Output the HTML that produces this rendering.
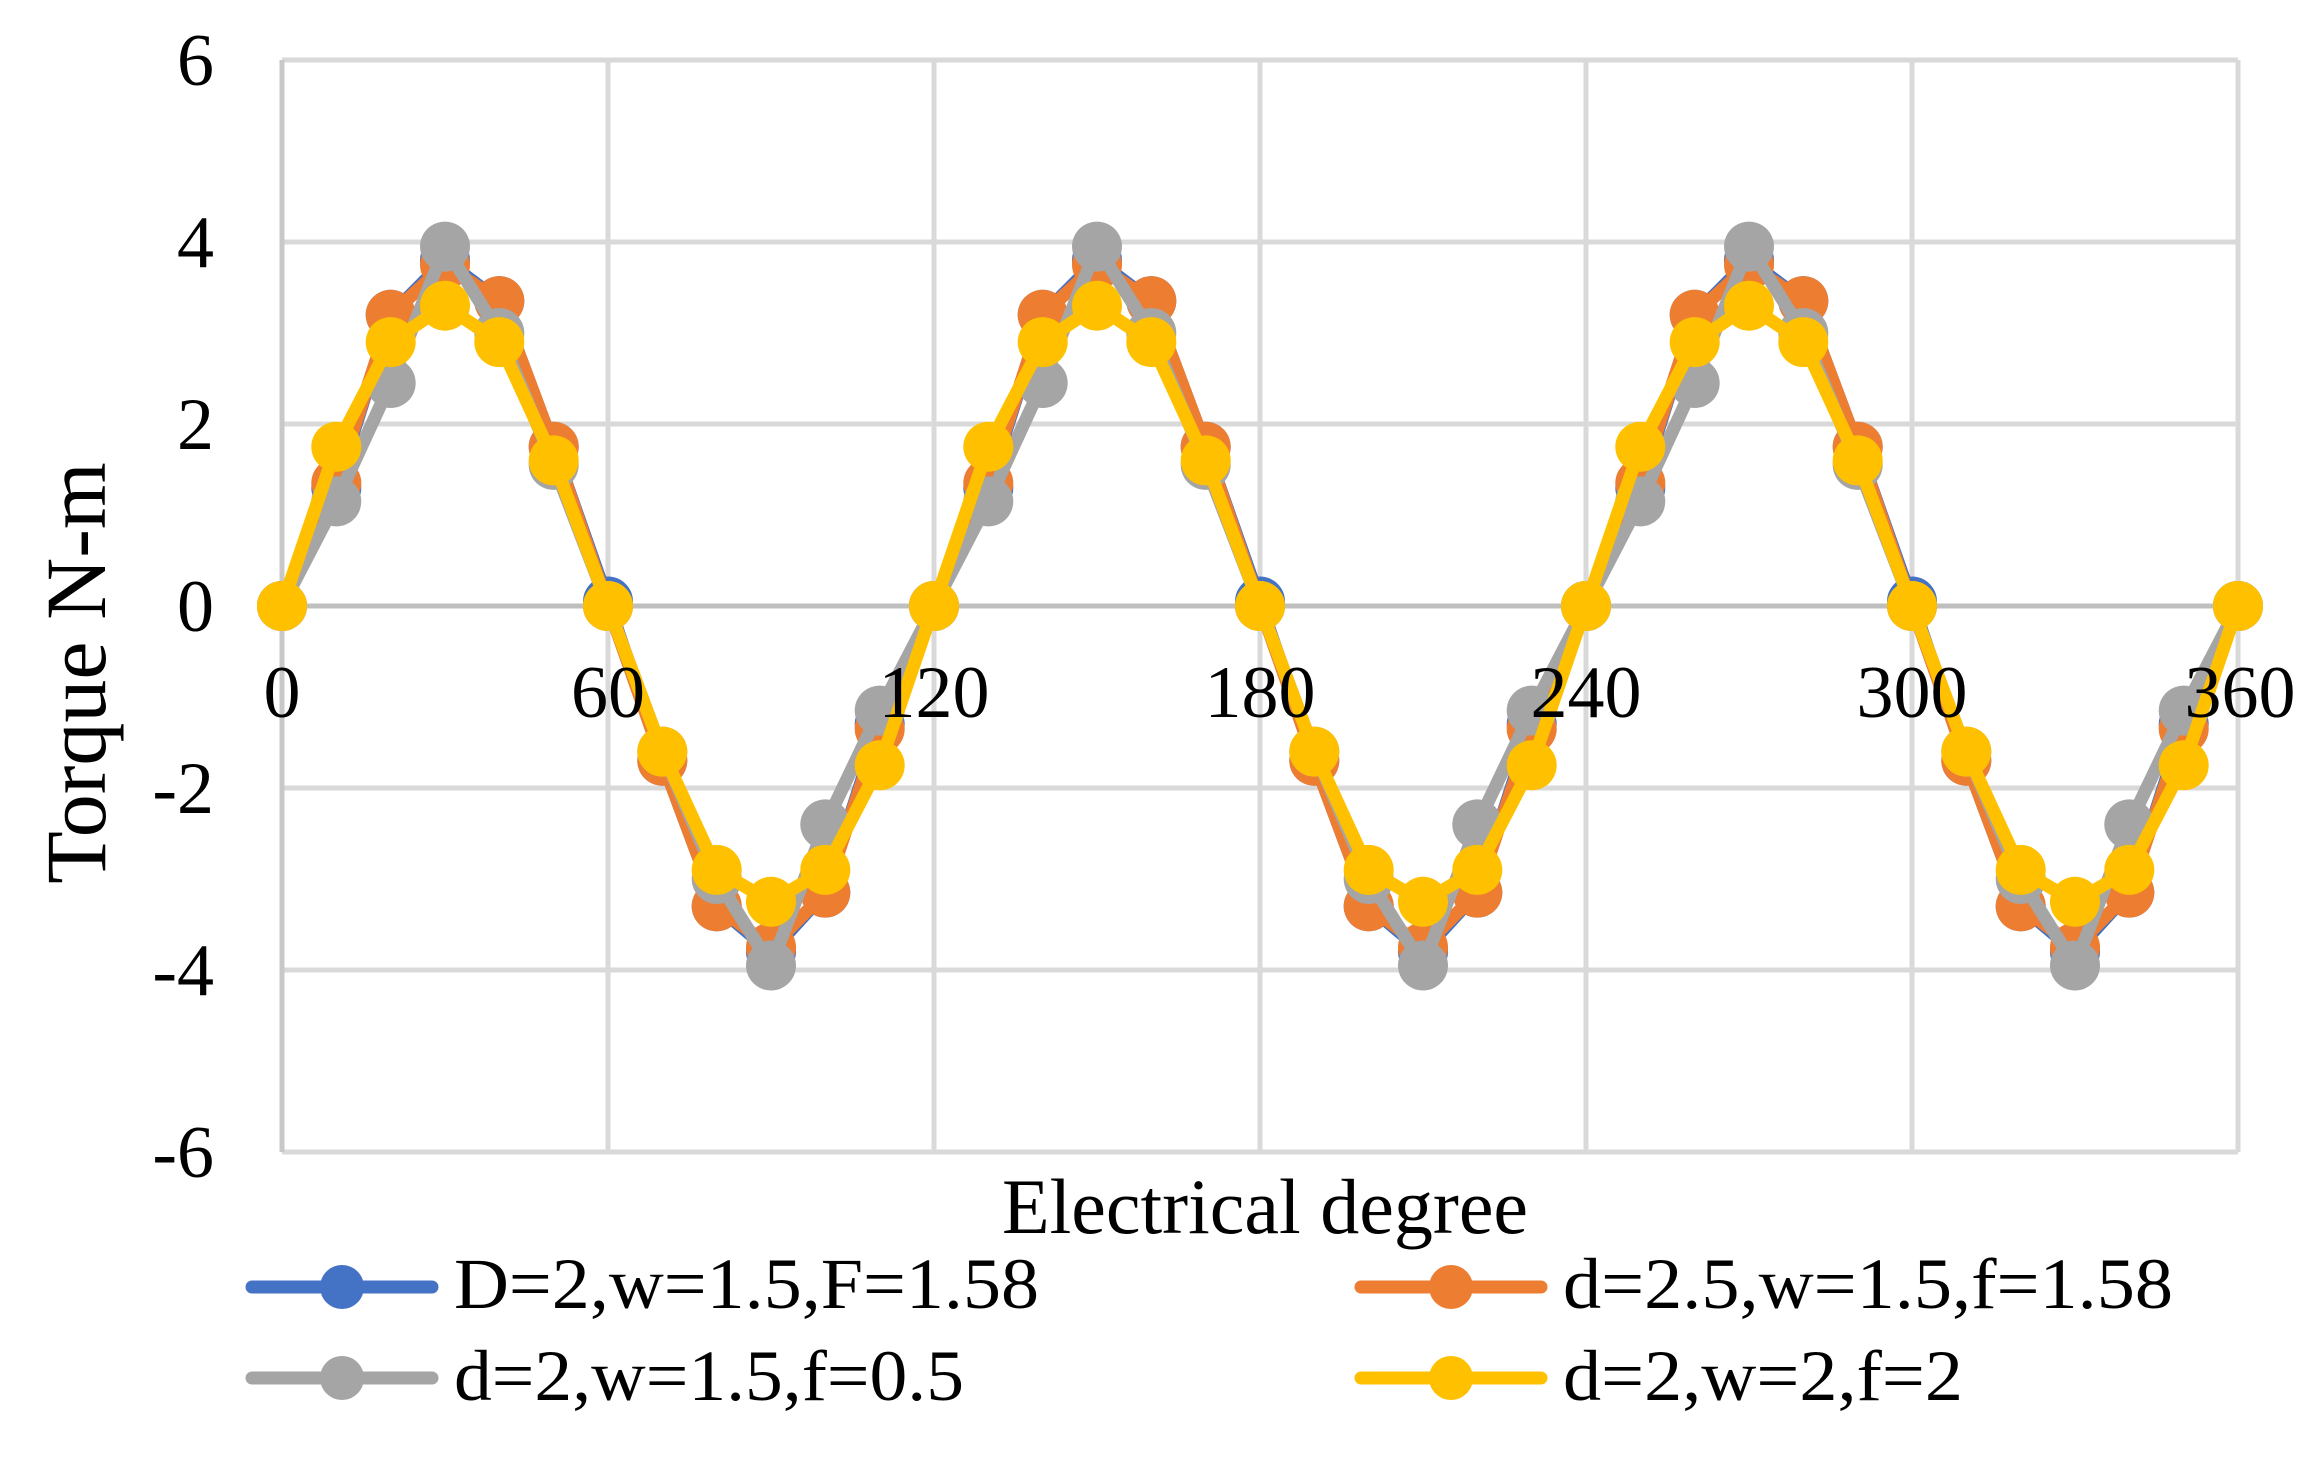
<!DOCTYPE html>
<html><head><meta charset="utf-8"><style>
html,body{margin:0;padding:0;background:#fff;}
svg{display:block;}
text{font-family:"Liberation Serif",serif;fill:#000;}
</style></head><body>
<svg id="c" width="2322" height="1462" viewBox="0 0 2322 1462" xmlns="http://www.w3.org/2000/svg">
<g stroke="#d9d9d9" stroke-width="5" fill="none">
<line x1="282" y1="60" x2="2238" y2="60"/>
<line x1="282" y1="242" x2="2238" y2="242"/>
<line x1="282" y1="424" x2="2238" y2="424"/>
<line x1="282" y1="788" x2="2238" y2="788"/>
<line x1="282" y1="970" x2="2238" y2="970"/>
<line x1="282" y1="1152" x2="2238" y2="1152"/>
<line x1="608" y1="60" x2="608" y2="1152"/>
<line x1="934" y1="60" x2="934" y2="1152"/>
<line x1="1260" y1="60" x2="1260" y2="1152"/>
<line x1="1586" y1="60" x2="1586" y2="1152"/>
<line x1="1912" y1="60" x2="1912" y2="1152"/>
<line x1="2238" y1="60" x2="2238" y2="1152"/>
<line x1="282" y1="60" x2="282" y2="1152" stroke="#c8c8c8"/>
<line x1="282" y1="606" x2="2238" y2="606" stroke="#bfbfbf"/>
</g>
<g font-size="74" text-anchor="end">
<text x="214" y="85">6</text>
<text x="214" y="267">4</text>
<text x="214" y="449">2</text>
<text x="214" y="631">0</text>
<text x="214" y="813">-2</text>
<text x="214" y="995">-4</text>
<text x="214" y="1177">-6</text>
</g>
<text font-size="86" text-anchor="middle" transform="translate(105,673) rotate(-90)">Torque N-m</text>
<text font-size="78" text-anchor="middle" x="1265" y="1233">Electrical degree</text>
<g id="series"></g>
<g font-size="74" text-anchor="middle">
<text x="282" y="717">0</text>
<text x="608" y="717">60</text>
<text x="934" y="717">120</text>
<text x="1260" y="717">180</text>
<text x="1586" y="717">240</text>
<text x="1912" y="717">300</text>
<text x="2240" y="717">360</text>
</g>
<g stroke-linecap="round">
<line x1="252" y1="1287" x2="432" y2="1287" stroke="#4472c4" stroke-width="13"/><circle cx="342" cy="1287" r="22" fill="#4472c4"/>
<line x1="1361" y1="1287" x2="1541" y2="1287" stroke="#ed7d31" stroke-width="13"/><circle cx="1451" cy="1287" r="22" fill="#ed7d31"/>
<line x1="252" y1="1378" x2="432" y2="1378" stroke="#a5a5a5" stroke-width="13"/><circle cx="342" cy="1378" r="22" fill="#a5a5a5"/>
<line x1="1361" y1="1378" x2="1541" y2="1378" stroke="#ffc000" stroke-width="13"/><circle cx="1451" cy="1378" r="22" fill="#ffc000"/>
</g>
<g font-size="72">
<text x="454" y="1308" textLength="585" lengthAdjust="spacingAndGlyphs">D=2,w=1.5,F=1.58</text>
<text x="1563" y="1308" textLength="610" lengthAdjust="spacingAndGlyphs">d=2.5,w=1.5,f=1.58</text>
<text x="454" y="1400" textLength="510" lengthAdjust="spacingAndGlyphs">d=2,w=1.5,f=0.5</text>
<text x="1563" y="1400" textLength="400" lengthAdjust="spacingAndGlyphs">d=2,w=2,f=2</text>
</g>
</svg>
<script>
var S=[
["#4472c4",[0,1.3,3.2,3.8,3.35,1.75,0.05,-1.7,-3.3,-3.8,-3.15,-1.3]],
["#ed7d31",[0,1.35,3.2,3.75,3.35,1.75,0,-1.7,-3.3,-3.75,-3.15,-1.35]],
["#a5a5a5",[0,1.15,2.45,3.95,3.0,1.55,0,-1.6,-3.0,-3.95,-2.4,-1.15]],
["#ffc000",[0,1.75,2.9,3.3,2.9,1.6,0,-1.6,-2.9,-3.25,-2.9,-1.75]]];
var g=document.getElementById('series'),h="";
S.forEach(function(s){var pts=[];for(var i=0;i<=36;i++){var v=i==36?0:s[1][i%12];var x=282+i*1956/36,y=606-v*91;pts.push([x,y]);}
h+='<polyline fill="none" stroke="'+s[0]+'" stroke-width="13" stroke-linejoin="round" points="'+pts.map(function(p){return p[0].toFixed(1)+","+p[1].toFixed(1)}).join(" ")+'"/>';
pts.forEach(function(p){h+='<circle cx="'+p[0].toFixed(1)+'" cy="'+p[1].toFixed(1)+'" r="25" fill="'+s[0]+'"/>';});});
g.innerHTML=h;
</script>
</body></html>
